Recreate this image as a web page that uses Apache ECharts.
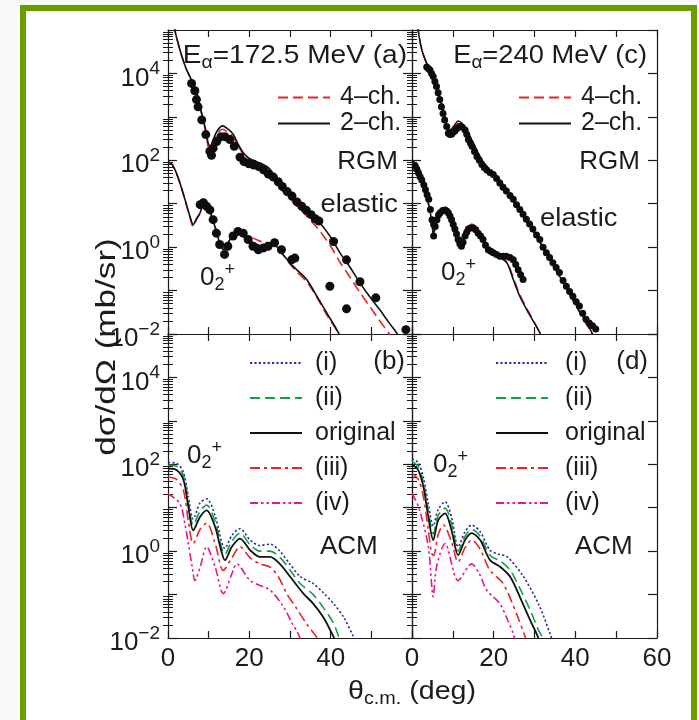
<!DOCTYPE html>
<html><head><meta charset="utf-8">
<script src="https://cdn.jsdelivr.net/npm/echarts@6/dist/echarts.min.js"></script>
<style>
html,body{margin:0;padding:0;background:#fafafa;overflow:hidden;}
#frame{position:absolute;left:20px;top:5px;width:665px;height:800px;border:6px solid #6a9c00;background:#fff;}
#chart{position:absolute;left:0;top:0;width:699px;height:720px;}
</style></head><body><div id="frame"></div><div id="chart"></div>
<script>
// ---------- data: [theta (deg), dsigma/dOmega (mb/sr)] ----------
// Panel (a) E=172.5 MeV, RGM
const aElastic4ch = [[1.3,3e5],[1.7,1e5],[2.5,4.9e4],[3.4,2.5e4],[4.6,1.2e4],[5.8,7.0e3],[7.1,3.4e3],[7.9,1.6e3],[8.7,780],[9.5,350],[9.9,200],[10.4,180],[11.0,240],[12.0,400],[13.4,520],[14.8,440],[16.1,340],[17.3,210],[18.5,140],[20.0,105],[21.8,90],[24.3,62],[26.0,38],[27.5,23],[30.0,13],[32.5,7.5],[35.0,4.2],[37.4,2.3],[40.0,1.05],[42.3,0.45],[44.8,0.2],[47.2,0.09],[49.7,0.042],[52.1,0.02],[54.6,0.0095],[56.0,0.006]];
const aElastic2ch = [[1.3,3e5],[1.7,1e5],[2.5,4.9e4],[3.4,2.5e4],[4.6,1.2e4],[5.8,7.0e3],[7.1,3.5e3],[7.9,1.7e3],[8.7,850],[9.5,400],[9.9,240],[10.4,210],[11.0,280],[12.0,460],[13.4,620],[14.8,520],[16.1,390],[17.3,230],[18.5,150],[20.0,110],[21.8,93],[24.3,72],[26.0,48],[27.5,30],[30.0,17.5],[32.5,10.5],[35.0,6.2],[37.4,3.6],[40.0,1.7],[42.3,0.74],[44.8,0.34],[47.2,0.15],[49.7,0.07],[52.1,0.036],[54.2,0.019],[56.2,0.0107],[57.5,0.007]];
const aElasticExp = [[5.8,5900],[6.6,4000],[7.0,2500],[7.4,1700],[8.3,850],[9.3,390],[10.3,160],[10.7,130],[11.1,190],[12.0,270],[13.0,350],[14.0,350],[15.2,300],[16.3,210],[17.7,118],[18.7,93],[19.9,83],[21.1,78],[22.3,72],[23.5,60],[24.7,48],[25.9,41],[27.1,32],[28.1,25],[29.3,19],[30.5,15],[31.7,11],[32.9,8.7],[34.0,7.1],[35.2,5.6],[36.2,4.5],[37.1,4.0],[40.7,1.35],[43.9,0.51],[47.2,0.16],[51.1,0.068],[58.5,0.0126]];
const a02_4ch = [[0,93],[1,80],[2.1,50],[3.2,25],[4.2,12],[5.4,4.8],[6.2,3.0],[7.0,4.3],[7.9,6.0],[8.7,9.3],[9.5,8.9],[10.3,6.5],[11.2,3.9],[12.0,2.2],[12.8,1.3],[13.6,0.95],[14.8,1.3],[16.0,1.9],[16.9,2.0],[18.5,1.9],[21.0,1.6],[23.4,1.3],[25.9,1.2],[27.9,0.75],[30.8,0.33],[34.1,0.16],[36.6,0.07],[39.0,0.028],[41.9,0.0105],[43.0,0.006]];
const a02_2ch = [[0,93],[1,80],[2.1,50],[3.2,25],[4.2,12.3],[5.4,5.1],[6.2,3.3],[7.0,4.5],[7.9,6.2],[8.7,9.5],[9.5,9.0],[10.3,6.6],[11.2,3.8],[12.0,2.1],[12.8,1.2],[13.6,0.87],[14.2,1.0],[14.8,1.26],[16.0,1.9],[16.9,2.1],[18.5,1.8],[21.0,1.26],[23.4,1.05],[25.9,1.15],[27.9,0.74],[30.8,0.36],[34.1,0.18],[36.6,0.074],[39.0,0.031],[41.9,0.0107],[43.0,0.006]];
const a02Exp = [[7.9,9.5],[8.7,10.5],[9.5,8.7],[10.3,7.2],[11.1,4.3],[11.9,2.1],[12.7,1.15],[13.9,0.68],[14.7,1.05],[16.0,1.8],[17.2,2.3],[18.5,2.1],[19.7,1.5],[20.9,1.05],[22.2,0.87],[23.4,0.95],[24.6,1.05],[26.2,1.26],[27.9,0.87],[30.4,0.51],[31.2,0.56],[39.8,0.126],[43.9,0.038]];

// Panel (c) E=240 MeV, RGM
const cElastic4ch = [[1.0,3e5],[1.5,1e5],[2.4,3.5e4],[3.6,1.7e4],[5.2,8.5e3],[6.4,3.5e3],[7.7,1.4e3],[8.5,560],[9.3,450],[10.3,560],[11.3,700],[12.3,640],[13.4,480],[15.0,240],[17.1,100],[19.1,58],[21.5,34],[24.0,14.5],[27.3,5.0],[30.5,1.75],[33.8,0.5],[37.1,0.145],[40.3,0.042],[43.6,0.012],[45.0,0.0065]];
const cElastic2ch = [[1.0,3e5],[1.5,1e5],[2.4,3.5e4],[3.6,1.7e4],[5.2,8.5e3],[6.4,3.5e3],[7.7,1.45e3],[8.5,600],[9.3,500],[10.3,620],[11.3,800],[12.3,700],[13.4,500],[15.0,250],[17.1,102],[19.1,60],[21.5,35],[24.0,15],[27.3,5.1],[30.5,1.8],[33.8,0.51],[37.1,0.15],[40.3,0.044],[43.6,0.013],[45.0,0.007]];
const cElasticExp = [[3.6,1.4e4],[4.0,1.3e4],[4.4,1.2e4],[4.8,1.0e4],[5.2,8.5e3],[5.6,6.5e3],[6.0,5.0e3],[6.4,3.6e3],[6.8,2.5e3],[7.2,1.7e3],[7.6,1.2e3],[8.0,850],[8.5,600],[8.9,420],[9.3,390],[9.7,400],[10.1,440],[10.5,470],[11.0,540],[11.7,600],[12.3,580],[13.0,500],[13.4,400],[13.8,300],[14.3,250],[14.7,210],[15.3,160],[15.9,123],[16.5,100],[17.1,80],[17.7,68],[18.3,60],[19.1,52],[19.9,47],[20.7,38],[21.5,30],[22.3,24],[23.1,19.5],[24.0,15.5],[24.8,12.6],[25.6,9.5],[26.4,7.4],[27.2,5.7],[28.0,4.4],[28.8,3.4],[29.6,2.6],[30.5,1.9],[31.3,1.5],[32.1,1.0],[32.9,0.74],[33.7,0.58],[34.5,0.44],[35.3,0.34],[36.1,0.26],[37.0,0.17],[37.8,0.126],[38.6,0.095],[39.4,0.074],[40.2,0.055],[41.0,0.044],[41.8,0.03],[42.6,0.022],[43.4,0.018],[44.2,0.0155],[45.0,0.013]];
const c02_4ch = [[0,100],[0.7,87],[2.0,51],[3.6,15],[4.8,4.2],[5.2,2.0],[5.8,2.9],[6.4,4.2],[8.1,7.7],[9.7,4.3],[11.3,1.3],[13.0,2.3],[14.6,3.4],[16.7,2.2],[18.7,0.9],[21.1,0.62],[23.2,0.45],[24.8,0.2],[26.4,0.08],[28.5,0.033],[31.3,0.0107],[32.0,0.007]];
const c02_2ch = [[0,100],[0.7,87],[2.0,51],[3.6,15],[4.8,4.3],[5.2,2.1],[5.8,3.0],[6.4,4.3],[8.1,7.9],[9.7,4.3],[11.3,1.26],[13.0,2.1],[14.6,3.0],[16.7,2.1],[18.7,0.87],[21.1,0.62],[23.2,0.44],[24.8,0.18],[26.4,0.074],[28.5,0.031],[31.3,0.0107],[32.0,0.007]];
const c02Exp = [[0.8,74],[1.2,62],[1.6,51],[2.0,42],[2.4,35],[2.9,27],[3.3,21],[3.7,16],[4.1,12.6],[4.5,7.4],[4.9,4.3],[5.3,3.3],[5.3,1.8],[5.7,3.0],[6.1,4.3],[6.5,5.5],[6.9,6.2],[7.5,7.0],[8.1,7.2],[8.5,6.8],[8.9,6.2],[9.3,5.2],[9.7,4.3],[10.1,3.3],[10.5,2.6],[10.9,2.0],[11.3,1.5],[11.7,1.2],[12.1,1.05],[12.5,1.3],[13.0,1.8],[13.4,2.2],[13.8,2.6],[14.4,2.8],[15.0,2.75],[15.6,2.5],[16.2,2.1],[16.8,1.8],[17.4,1.5],[18.0,1.1],[18.7,0.87],[19.3,0.8],[19.9,0.74],[20.7,0.68],[21.5,0.62],[22.3,0.62],[23.1,0.62],[24.0,0.58],[24.8,0.51],[25.4,0.4],[26.0,0.3],[26.6,0.23],[27.2,0.18]];

// Panel (b) E=172.5 MeV, ACM 0_2+
const bI    = [[0,110],[2.1,105],[3.8,65],[5.0,18],[6.2,5.5],[7.9,13],[9.5,16],[11.6,6.5],[14.0,1.15],[15.7,2.3],[17.7,3.3],[20.2,1.8],[22.6,1.35],[25.1,1.45],[27.5,1.0],[30.0,0.5],[32.5,0.26],[35.7,0.18],[38.2,0.11],[40.7,0.062],[43.2,0.03],[45.6,0.0107],[46.5,0.007]];
const bII   = [[0,95],[2.1,90],[3.8,55],[5.0,13.5],[6.2,4.0],[7.9,8.5],[9.5,11.5],[11.6,4.8],[14.0,0.85],[15.7,1.7],[17.7,2.6],[20.2,1.4],[22.6,1.0],[25.1,1.0],[27.5,0.72],[30.0,0.37],[32.5,0.18],[35.7,0.1],[38.2,0.05],[40.7,0.022],[42.0,0.0105],[42.7,0.007]];
const bOrig = [[0,80],[2.1,74],[3.8,44],[5.0,10.5],[6.2,3.0],[7.9,6.2],[9.5,8.7],[11.6,3.6],[13.0,1.1],[14.0,0.62],[15.7,1.26],[17.7,1.95],[20.2,1.05],[22.6,0.74],[25.1,0.74],[27.5,0.51],[30.0,0.26],[33.3,0.105],[35.7,0.062],[38.2,0.03],[40.7,0.0107],[41.5,0.007]];
const bIII  = [[0,51],[2.1,45],[3.8,25],[5.0,5.0],[6.2,1.5],[7.9,3.2],[9.5,4.4],[11.6,1.5],[13.6,0.36],[15.7,0.7],[17.7,1.26],[20.2,0.7],[22.6,0.51],[25.1,0.43],[27.2,0.25],[29.2,0.105],[31.5,0.05],[34.1,0.021],[36.5,0.0107],[37.5,0.007]];
const bIV   = [[0,21],[2.9,12.6],[4.2,4],[5.0,1.5],[6.0,0.4],[6.6,0.21],[7.9,0.43],[9.5,1.26],[11.6,0.43],[13.6,0.105],[15.7,0.3],[16.9,0.51],[20.2,0.21],[25.1,0.126],[28.4,0.052],[30.5,0.022],[32.0,0.0126],[33.0,0.007]];

// Panel (d) E=240 MeV, ACM 0_2+
const dI    = [[0,135],[1.5,110],[2.8,50],[4.0,12],[5.2,3.8],[6.4,9],[8.1,13.8],[9.7,6],[11.3,1.26],[13.0,2.8],[14.6,4.0],[16.7,2.8],[19.1,1.05],[21.2,0.85],[23.3,0.74],[27.3,0.26],[31.3,0.052],[33.8,0.0126],[34.5,0.008]];
const dII   = [[0,115],[1.5,90],[2.8,38],[4.0,8],[5.2,2.5],[6.4,6.6],[8.1,9.8],[9.7,4.2],[11.3,1.0],[13.0,2.2],[14.6,3.2],[16.7,2.2],[19.1,0.8],[21.5,0.6],[24.0,0.37],[26.4,0.14],[28.9,0.045],[31.0,0.015],[31.9,0.0105],[32.5,0.007]];
const dOrig = [[0,100],[0.3,95],[1.5,74],[2.8,30],[4.0,6.2],[5.2,1.8],[6.4,5.1],[8.1,7.4],[9.7,3.0],[11.3,0.81],[13.0,1.8],[14.6,2.6],[16.7,1.8],[19.1,0.62],[21.5,0.44],[24.0,0.26],[26.4,0.089],[28.9,0.026],[30.5,0.0126],[31.3,0.008]];
const dIII  = [[0,62],[1.6,44],[2.8,18],[4.0,3.0],[4.8,0.9],[5.3,0.8],[6.4,2.4],[7.7,4.0],[9.7,1.6],[11.3,0.56],[13.0,1.2],[14.6,1.8],[16.7,1.1],[19.1,0.36],[22.3,0.18],[25.6,0.036],[27.7,0.0107],[28.3,0.007]];
const dIV   = [[0,21],[1.6,10.5],[4.0,1.26],[5.2,0.089],[6.0,0.43],[8.1,1.5],[11.3,0.21],[14.6,0.51],[16.5,0.3],[18.3,0.126],[21.5,0.062],[23.5,0.025],[24.8,0.0126],[25.5,0.007]];

// axis settings
const xTicks = { min: 0, max: 60, step: 10, labelStep: 20 };
const yRange = { min: 0.01, max: 1e5 };
const minorMantissas = [2,3,4,5,6,7,8,9];

// ---------- styles ----------
const FONT = 'Liberation Sans, Arial, Helvetica, sans-serif';
const FS = 26;
const TXT = '#1c1c1c';
const AX = '#1a1a1a';
const RED = '#e8232b', BLK = '#111111', BLUE = '#2b2f8f', GREEN = '#12a048', MAG = '#e5198a';

const grids = [
  {left:168, top:30,  width:244, height:304}, // a
  {left:412, top:30,  width:245, height:304}, // c
  {left:168, top:334, width:244, height:304}, // b
  {left:412, top:334, width:245, height:304}  // d
];

const minorVals = [];
for (let n = Math.round(Math.log10(yRange.min)); n < Math.round(Math.log10(yRange.max)); n++)
  minorMantissas.forEach(k => minorVals.push(n + Math.log10(k)));

const supRich = {
  b: {fontSize: FS, fontFamily: FONT, color: TXT, lineHeight: 28, verticalAlign: 'top', padding: [6,0,0,0]},
  s: {fontSize: 19, fontFamily: FONT, color: TXT, lineHeight: 20, verticalAlign: 'top'}
};

const xAxes = [], yAxes = [];
grids.forEach((g, i) => {
  const bottomRow = i >= 2, leftCol = (i % 2 === 0);
  const common = {type:'value', gridIndex:i, min:xTicks.min, max:xTicks.max, interval:xTicks.step,
    splitLine:{show:false}, axisLine:{show:true, onZero:false, lineStyle:{color:AX, width:1.2}},
    axisTick:{show:true, inside:true, length:7, lineStyle:{color:AX, width:1.2}}};
  xAxes.push(Object.assign({}, common, {position:'bottom',
    axisLabel:{show:bottomRow, margin:8, fontSize:FS, fontFamily:FONT, color:TXT,
      formatter: v => (v % xTicks.labelStep === 0 && !(leftCol && v === xTicks.max)) ? String(v) : ''}}));
  xAxes.push(Object.assign({}, common, {position:'top', axisLabel:{show:false}}));
  const ylog = {type:'log', logBase:10, gridIndex:i, min:yRange.min, max:yRange.max, interval:1, splitNumber:7,
    splitLine:{show:false}, axisLine:{show:true, onZero:false, lineStyle:{color:AX, width:1.2}},
    axisTick:{show:true, inside:true, length:9, lineStyle:{color:AX, width:1.2}}};
  yAxes.push(Object.assign({}, ylog, {position:'left',
    axisLabel:{show:leftCol, margin:8, rich:supRich,
      formatter: v => { const e = Math.round(Math.log10(v)); if (e % 2 !== 0) return '';
        return '{b|10}{s|' + (e < 0 ? '\u2212' + (-e) : e) + '}'; }}}));
  yAxes.push(Object.assign({}, ylog, {position:'right', axisLabel:{show:false}}));
  const minor = {type:'value', gridIndex:i, min:Math.log10(yRange.min), max:Math.log10(yRange.max),
    splitLine:{show:false}, axisLine:{show:false}, axisLabel:{show:false},
    axisTick:{show:true, inside:true, length:5, customValues:minorVals, lineStyle:{color:AX, width:1}}};
  yAxes.push(Object.assign({}, minor, {position:'left'}));
  yAxes.push(Object.assign({}, minor, {position:'right'}));
});

function line(name, data, gi, color, type, width) {
  return {type:'line', name, data, xAxisIndex:gi*2, yAxisIndex:gi*4, symbol:'none', showSymbol:false,
    smooth:0.3, clip:true, silent:true, z:3,
    lineStyle:{color, type, width: width || 1.6}, itemStyle:{color}};
}
function dots(data, gi, size) {
  return {type:'scatter', name:'exp', data, xAxisIndex:gi*2, yAxisIndex:gi*4, symbol:'circle',
    symbolSize:size, clip:true, silent:true, z:4, itemStyle:{color:'#0d0d0d', opacity:1}};
}
const DASH = [10,5], DOT = [2.2,2.2], DASHDOT = [10,4,3,4], DASHDOTDOT = [8,3,2.5,3,2.5,3];

const series = [
  line('4\u2013ch.', aElastic4ch, 0, RED, DASH), line('2\u2013ch.', aElastic2ch, 0, BLK, 'solid'),
  line('4\u2013ch.', a02_4ch, 0, RED, DASH), line('2\u2013ch.', a02_2ch, 0, BLK, 'solid'),
  dots(aElasticExp, 0, 9), dots(a02Exp, 0, 9),
  line('4\u2013ch.', cElastic4ch, 1, RED, DASH), line('2\u2013ch.', cElastic2ch, 1, BLK, 'solid'),
  line('4\u2013ch.', c02_4ch, 1, RED, DASH), line('2\u2013ch.', c02_2ch, 1, BLK, 'solid'),
  dots(cElasticExp, 1, 7), dots(c02Exp, 1, 7),
  line('(i)', bI, 2, BLUE, DOT), line('(ii)', bII, 2, GREEN, DASH), line('original', bOrig, 2, BLK, 'solid', 1.8),
  line('(iii)', bIII, 2, RED, DASHDOT), line('(iv)', bIV, 2, MAG, DASHDOTDOT),
  line('(i)', dI, 3, BLUE, DOT), line('(ii)', dII, 3, GREEN, DASH), line('original', dOrig, 3, BLK, 'solid', 1.8),
  line('(iii)', dIII, 3, RED, DASHDOT), line('(iv)', dIV, 3, MAG, DASHDOTDOT)
];

function legend(data, left, top, gap, lh, txtPad) {
  return {data, orient:'vertical', left, top, itemWidth:52, itemHeight:10, itemGap:gap, selectedMode:false,
    itemStyle:{opacity:0}, padding:0,
    textStyle:{fontSize:25, fontFamily:FONT, color:TXT, lineHeight:lh, padding:[0,0,0,txtPad]}};
}
const legends = [
  legend(['4\u2013ch.','2\u2013ch.'], 277, 85, 1, 24, 5),
  legend(['4\u2013ch.','2\u2013ch.'], 518, 85, 1, 24, 5),
  legend(['(i)','(ii)','original','(iii)','(iv)'], 249, 349, 7, 28, 8),
  legend(['(i)','(ii)','original','(iii)','(iv)'], 495, 349, 7, 28, 12)
];

const baseRich = {
  t: {fontSize:FS, fontFamily:FONT, color:TXT, lineHeight:30, verticalAlign:'top', padding:[4,0,0,0]},
  sub: {fontSize:18, fontFamily:FONT, color:TXT, lineHeight:20, verticalAlign:'top', padding:[15,0,0,0]},
  sup: {fontSize:18, fontFamily:FONT, color:TXT, lineHeight:20, verticalAlign:'top'}
};
// text anchored at (x,y); optional horizontal stretch around the anchor
function txt(text, x, y, align, sx) {
  return {type:'text', z:50, silent:true, x, y, scaleX: sx || 1,
    style:{text, x:0, y:0, align:align||'left', verticalAlign:'middle',
    fontSize:FS, fontFamily:FONT, fill:TXT, rich:baseRich}};
}
const graphics = [
  txt('{t|E}{sub|\u03b1}{t|=172.5 MeV (a)}', 407, 54, 'right', 1.08),
  txt('{t|E}{sub|\u03b1}{t|=240 MeV (c)}', 647, 54, 'right', 1.05),
  txt('RGM', 398, 162, 'right'), txt('elastic', 398, 205, 'right', 1.05),
  txt('RGM', 640, 162, 'right'), txt('elastic', 540, 219, 'left', 1.05),
  txt('{t|0}{sub|2}{sup|+}', 200, 276, 'left'), txt('{t|0}{sub|2}{sup|+}', 441, 271, 'left'),
  txt('(b)', 405, 362, 'right'), txt('(d)', 648, 362, 'right'),
  txt('ACM', 320, 547, 'left'), txt('ACM', 575, 547, 'left'),
  txt('{t|0}{sub|2}{sup|+}', 187, 454, 'left'), txt('{t|0}{sub|2}{sup|+}', 433, 463, 'left'),
  txt('{t|\u03b8}{sub|c.m.}{t| (deg)}', 412, 690, 'center', 1.1),
  {type:'text', z:50, silent:true, x:108, y:347, rotation:Math.PI/2, scaleX:1.3,
    style:{text:'d\u03c3/d\u03a9 (mb/sr)', x:0, y:0, align:'center', verticalAlign:'middle', fontSize:27, fontFamily:FONT, fill:TXT}}
];

const chart = echarts.init(document.getElementById('chart'), null, {renderer:'canvas'});
chart.setOption({
  backgroundColor:'transparent', animation:false,
  grid: grids, xAxis: xAxes, yAxis: yAxes, legend: legends, series, graphic: graphics
});
</script></body></html>
